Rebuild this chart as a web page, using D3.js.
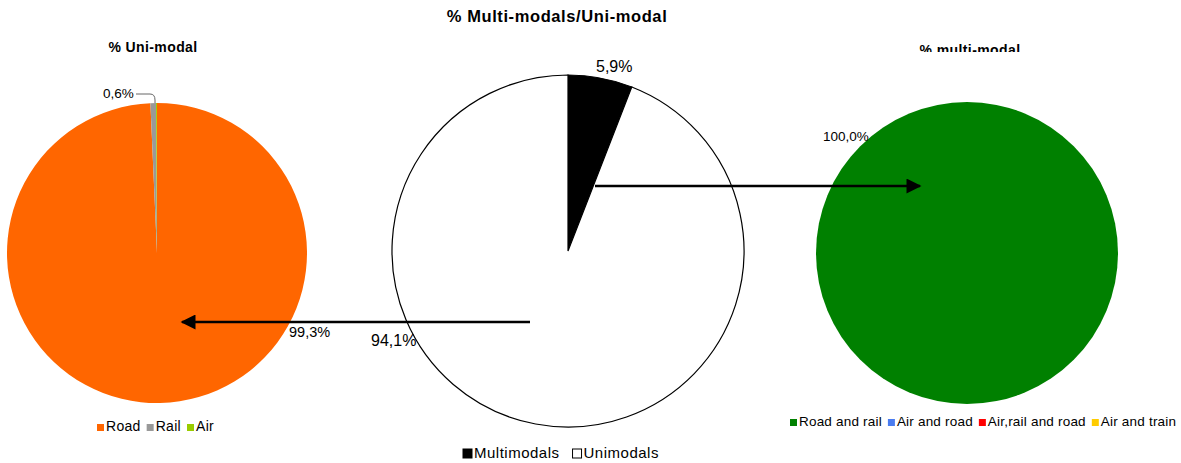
<!DOCTYPE html>
<html>
<head>
<meta charset="utf-8">
<script src="https://cdn.jsdelivr.net/npm/d3@7"></script>
<style>
  body { margin: 0; background: #fff; }
  text { font-family: "Liberation Sans", Arial, sans-serif; fill: #000; }
</style>
</head>
<body>
<svg id="chart" width="1181" height="463"></svg>
<script>
// uni-modal split
var uniCats = ["Road", "Rail", "Air"];
var uniVals = [99.3, 0.6, 0.1];
var uniColors = ["#ff6600", "#999999", "#99cc00"];

// multi vs uni
var mainCats = ["Multimodals", "Unimodals"];
var mainVals = [5.9, 94.1];
var mainColors = ["#000000", "#ffffff"];

// multi-modal split
var multiCats = ["Road and rail", "Air and road", "Air,rail and road", "Air and train"];
var multiVals = [100.0, 0, 0, 0];
var multiColors = ["#008000", "#4a7cf0", "#ff0000", "#ffcc00"];

var svg = d3.select("#chart");
svg.append("rect").attr("width", 1181).attr("height", 463).attr("fill", "#fff");

var fmt = function(v) { return d3.format(".1f")(v).replace(".", ",") + "%"; };
var pie = d3.pie().sort(null).value(function(d) { return d; });

function drawPie(vals, colors, cx, cy, r, stroke) {
  var g = svg.append("g").attr("transform", "translate(" + cx + "," + cy + ")");
  var arc = d3.arc().innerRadius(0).outerRadius(r);
  g.selectAll("path")
    .data(pie(vals))
    .enter().append("path")
    .attr("d", arc)
    .attr("fill", function(d, i) { return colors[i]; })
    .attr("stroke", stroke || "none")
    .attr("stroke-width", stroke ? 1.2 : 0);
  return g;
}

function drawLegend(cats, colors, x0, y, size, fs, ls, gap, border) {
  var x = x0;
  cats.forEach(function(c, i) {
    svg.append("rect")
      .attr("x", x).attr("y", y - size)
      .attr("width", size).attr("height", size)
      .attr("fill", colors[i])
      .attr("stroke", border ? "#000" : "none").attr("stroke-width", 1);
    var t = svg.append("text")
      .attr("x", x + size + 2).attr("y", y)
      .attr("font-size", fs)
      .attr("letter-spacing", ls)
      .text(c);
    x += size + 2 + t.node().getComputedTextLength() + gap;
  });
}

// titles
svg.append("text").attr("x", 557).attr("y", 22).attr("text-anchor", "middle")
  .attr("font-size", 16.5).attr("font-weight", "bold").attr("letter-spacing", 0.6)
  .text("% Multi-modals/Uni-modal");
svg.append("text").attr("x", 153).attr("y", 52).attr("text-anchor", "middle")
  .attr("font-size", 14).attr("font-weight", "bold").attr("letter-spacing", 0.4)
  .text("% Uni-modal");

svg.append("clipPath").attr("id", "cut").append("rect")
  .attr("x", 900).attr("y", 30).attr("width", 150).attr("height", 22);
svg.append("text").attr("x", 970).attr("y", 55).attr("text-anchor", "middle")
  .attr("clip-path", "url(#cut)")
  .attr("font-size", 14).attr("font-weight", "bold").attr("letter-spacing", 0.4)
  .text("% multi-modal");

// left pie
var lp = { x: 157, y: 253, r: 150 };
drawPie(uniVals, uniColors, lp.x, lp.y, lp.r);
svg.append("text").attr("x", lp.x + 132).attr("y", lp.y + 84)
  .attr("font-size", 14.5).text(fmt(uniVals[0]));
svg.append("text").attr("x", lp.x - 54).attr("y", lp.y - 155)
  .attr("font-size", 13.5).text(fmt(uniVals[1]));
svg.append("path")
  .attr("d", "M" + (lp.x - 21) + "," + (lp.y - 159) + " H" + (lp.x - 7) +
        " Q" + (lp.x - 2) + "," + (lp.y - 159) + " " + (lp.x - 2) + "," + (lp.y - 153) + " V" + (lp.y - lp.r))
  .attr("fill", "none").attr("stroke", "#666").attr("stroke-width", 1);

// centre pie
var cp = { x: 568, y: 251, r: 176 };
drawPie(mainVals, mainColors, cp.x, cp.y, cp.r, "#000");
svg.append("text").attr("x", cp.x + 28).attr("y", cp.y - 179)
  .attr("font-size", 16).text(fmt(mainVals[0]));
svg.append("text").attr("x", cp.x - 197).attr("y", cp.y + 95)
  .attr("font-size", 16).text(fmt(mainVals[1]));

// right pie
var rp = { x: 967, y: 253, r: 151 };
drawPie(multiVals, multiColors, rp.x, rp.y, rp.r);
svg.append("text").attr("x", rp.x - 144).attr("y", rp.y - 112)
  .attr("font-size", 13.5).text(fmt(multiVals[0]));

// arrows
var defs = svg.append("defs");
defs.append("marker").attr("id", "head")
  .attr("viewBox", "0 0 10 10").attr("refX", 9).attr("refY", 5)
  .attr("markerWidth", 8).attr("markerHeight", 6).attr("orient", "auto")
  .attr("markerUnits", "strokeWidth")
  .append("path").attr("d", "M0,0 L10,5 L0,10 Z").attr("fill", "#000");

svg.append("line")
  .attr("x1", 530).attr("y1", 322).attr("x2", 182).attr("y2", 322)
  .attr("stroke", "#000").attr("stroke-width", 2.5).attr("marker-end", "url(#head)");
svg.append("line")
  .attr("x1", 595).attr("y1", 186).attr("x2", 920).attr("y2", 186)
  .attr("stroke", "#000").attr("stroke-width", 2.5).attr("marker-end", "url(#head)");

// legends
drawLegend(uniCats, uniColors, 97, 431, 7, 14, 0.3, 6);
drawLegend(mainCats, mainColors, 463, 458, 9, 15, 0.5, 13, true);
drawLegend(multiCats, multiColors, 790, 426, 7, 13.5, 0.2, 6);
</script>
</body>
</html>
